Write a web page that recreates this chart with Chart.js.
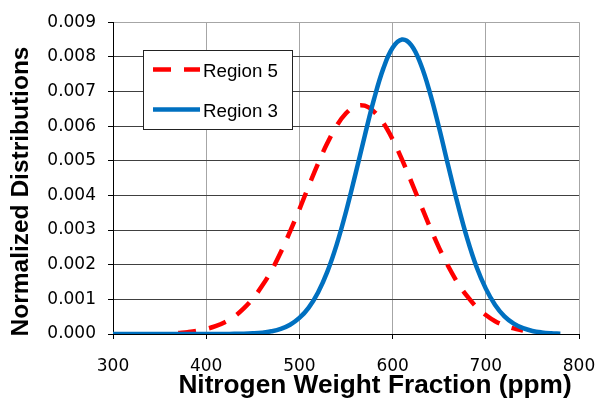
<!DOCTYPE html>
<html>
<head>
<meta charset="utf-8">
<script src="https://cdn.jsdelivr.net/npm/chart.js@4.4.1/dist/chart.umd.min.js"></script>
<style>
  html, body { margin: 0; padding: 0; background: #fff; }
</style>
</head>
<body>
<canvas id="chart" width="596" height="398"></canvas>
<script>
// Region 5 (red dashed)
const region5Ppm = [370, 380, 390, 400, 410, 420, 430, 440, 450, 460, 470, 480, 490, 500, 510, 520, 530, 540, 550, 560,
    570, 580, 590, 600, 610, 620, 630, 640, 650, 660, 670, 680, 690, 700, 710, 720, 730, 740];
const region5Values = [0.00003, 0.000054, 0.000089, 0.000144, 0.000225, 0.00034, 0.0005, 0.00073, 0.00102, 0.00139,
    0.00183, 0.00236, 0.00296, 0.0036, 0.00427, 0.00492, 0.00551, 0.00601, 0.00637, 0.00657,
    0.00659, 0.00642, 0.00609, 0.00562, 0.00504, 0.0044, 0.00374, 0.00309, 0.00248, 0.00194,
    0.00147, 0.00109, 0.00078, 0.00055, 0.00037, 0.00025, 0.00016, 0.0001];

// Region 3 (blue solid)
const region3Ppm = [300, 310, 320, 330, 340, 350, 360, 370, 380, 390, 400, 410, 420, 430, 440, 450, 460, 470, 480, 490,
    500, 510, 520, 530, 540, 550, 560, 570, 580, 590, 600, 610, 620, 630, 640, 650, 660, 670, 680, 690,
    700, 710, 720, 730, 740, 750, 760, 770, 780];
const region3Values = [0, 0, 0, 0, 0, 0, 0, 0, 0, 0, 0, 0, 0, 0.000004, 0.0000085, 0.000019, 0.000039, 0.000078, 0.000147, 0.000267,
    0.000463, 0.000763, 0.0012, 0.0018, 0.00258, 0.00353, 0.0046, 0.00571, 0.00677, 0.00766,
    0.00826, 0.0085, 0.00834, 0.0078, 0.00697, 0.00594, 0.00482, 0.00374, 0.00276, 0.00194,
    0.00131, 0.00084, 0.00051, 0.0003, 0.000167, 0.000088, 0.000045, 0.000022, 0.00001];

const seriesLabels = ["Region 5", "Region 3"];
const xTitle = "Nitrogen Weight Fraction (ppm)";
const yTitle = "Normalized Distributions";

function toPoints(xs, ys) {
    return xs.map((x, i) => ({ x: x, y: ys[i] }));
}

// testo allargato in orizzontale (il grafico originale è un po' stirato)
function wideText(ctx, text, x, y, sx) {
    ctx.save();
    ctx.translate(x, y);
    ctx.scale(sx, 1);
    ctx.fillText(text, 0, 0);
    ctx.restore();
}

// legenda incorniciata e titoli degli assi
const overlay = {
    id: 'overlay',
    afterDraw(chart) {
        const ctx = chart.ctx;
        ctx.save();
        ctx.fillStyle = '#fff';
        ctx.fillRect(143, 50, 150, 79);
        ctx.strokeStyle = '#222';
        ctx.lineWidth = 1;
        ctx.strokeRect(143.5, 50.5, 149, 79);

        chart.data.datasets.forEach((ds, i) => {
            const y = 69.5 + i * 40;
            ctx.strokeStyle = ds.borderColor;
            ctx.lineWidth = ds.borderWidth;
            ctx.setLineDash(ds.borderDash || []);
            ctx.beginPath();
            ctx.moveTo(153, y);
            ctx.lineTo(200, y);
            ctx.stroke();
            ctx.setLineDash([]);
            ctx.fillStyle = '#000';
            ctx.font = '17.5px "Liberation Sans", Arial, sans-serif';
            ctx.textAlign = 'left';
            ctx.textBaseline = 'alphabetic';
            wideText(ctx, ds.label, 203, y + 7, 1.07);
        });

        ctx.fillStyle = '#000';
        ctx.font = 'bold 25px "Liberation Sans", Arial, sans-serif';
        ctx.textAlign = 'center';
        ctx.textBaseline = 'alphabetic';
        wideText(ctx, xTitle, 375, 393, 1.05);

        ctx.save();
        ctx.translate(28, 191.5);
        ctx.rotate(-Math.PI / 2);
        ctx.font = 'bold 24.5px "Liberation Sans", Arial, sans-serif';
        ctx.fillText(yTitle, 0, 0);
        ctx.restore();
        ctx.restore();
    }
};

const tickFont = { family: '"DejaVu Sans", sans-serif', size: 17 };

new Chart(document.getElementById('chart').getContext('2d'), {
    type: 'line',
    data: {
        datasets: [{
            label: seriesLabels[0],
            data: toPoints(region5Ppm, region5Values),
            borderColor: '#ff0000',
            borderWidth: 4.5,
            borderDash: [18, 13],
            tension: 0.4,
            pointRadius: 0,
            fill: false,
            order: 1
        }, {
            label: seriesLabels[1],
            data: toPoints(region3Ppm, region3Values),
            borderColor: '#0070c0',
            borderWidth: 4.5,
            tension: 0.4,
            pointRadius: 0,
            fill: false,
            order: 0
        }]
    },
    options: {
        responsive: false,
        animation: false,
        layout: { padding: { top: 17, right: 17, bottom: 0, left: 0 } },
        plugins: {
            legend: { display: false },
            tooltip: { enabled: false }
        },
        scales: {
            x: {
                type: 'linear',
                min: 300,
                max: 800,
                ticks: { stepSize: 100, color: '#000', font: tickFont, padding: 17 },
                grid: { color: '#a6a6a6', tickColor: '#000', tickLength: 5 },
                border: { color: '#000' },
                afterFit: function (scale) {
                    scale.height = 64;
                    scale.paddingLeft = 0;
                    scale.paddingRight = 0;
                }
            },
            y: {
                min: 0,
                max: 0.009,
                ticks: {
                    stepSize: 0.001,
                    color: '#000',
                    font: tickFont,
                    padding: 12,
                    callback: function (v) { return v.toFixed(3); }
                },
                grid: {
                    color: function (c) { return c.tick && c.tick.value > 0.0089 ? '#a6a6a6' : '#404040'; },
                    tickColor: '#000',
                    tickLength: 5
                },
                border: { color: '#000' },
                afterFit: function (scale) { scale.width = 113; }
            }
        }
    },
    plugins: [overlay]
});
</script>
</body>
</html>
